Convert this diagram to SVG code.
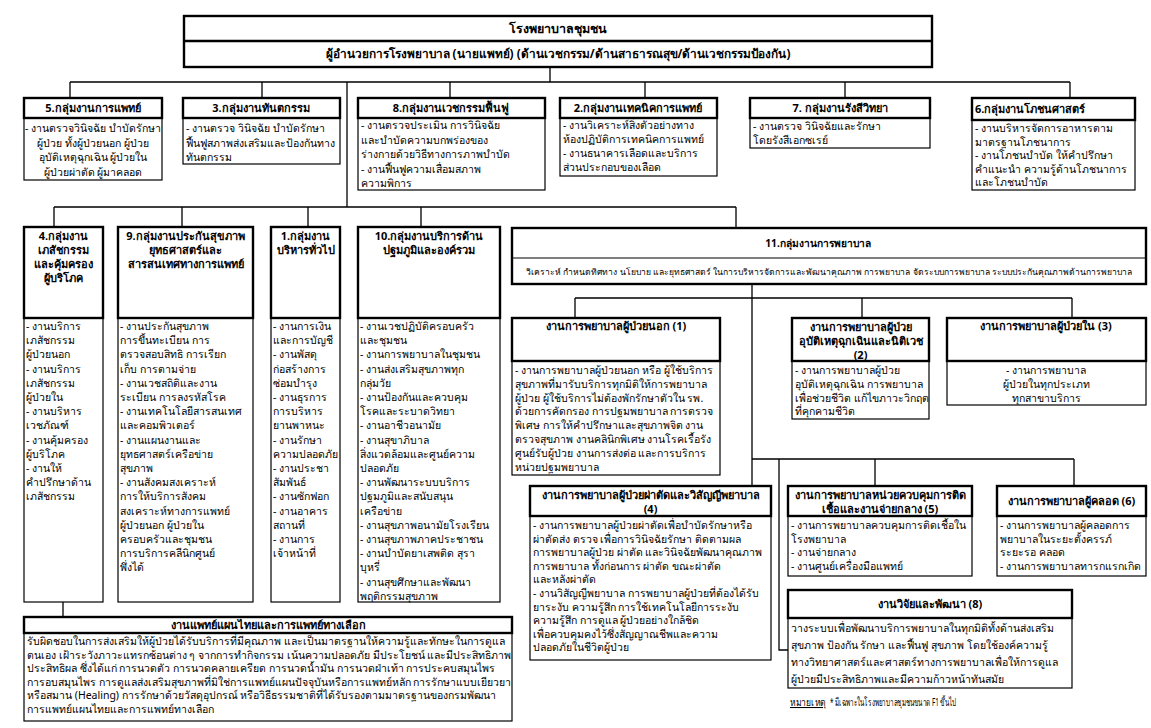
<svg xmlns="http://www.w3.org/2000/svg" width="1151" height="728" viewBox="0 0 1151 728">
<style>
.hb{fill:#fff;stroke:#000;stroke-width:2.4}
.bb{fill:#fff;stroke:#000;stroke-width:1.2}
.ln{fill:none;stroke:#000;stroke-width:1.3}
text{font-family:Tahoma,"Noto Sans","DejaVu Sans",sans-serif;font-size:10.5px;fill:#000}
.h{font-weight:bold;font-size:11px}
.c{text-anchor:middle}
.s{font-size:8.6px}
</style>
<rect width="1151" height="728" fill="#fff"/>
<g id="connectors">
<path class="ln" d="M550,67V82M70,82H1070M70,82V98M262,82V98M450,82V98M645,82V98M845,82V98M1070,82V98"/>
<path class="ln" d="M347,82V207M54,207H736M54,207V227M182,207V227M308,207V227M421,207V227M736,207V228"/>
<path class="ln" d="M752,284V486M575,298H1072M575,298V318M862,298V318M1072,298V318"/>
<path class="ln" d="M752,459H1074M779,459V650H788M875,459V486M1074,459V486"/>
<path class="ln" d="M63,602V617"/>
</g>
<g id="top">
<rect class="hb" x="184" y="16" width="748" height="51"/>
<line x1="184" y1="41" x2="932" y2="41" stroke="#000" stroke-width="2.4"/>
<text class="h c" x="558" y="33" style="font-size:12.5px">โรงพยาบาลชุมชน</text>
<text class="h c" x="558" y="58" style="font-size:11.8px">ผู้อำนวยการโรงพยาบาล (นายแพทย์) (ด้านเวชกรรม/ด้านสาธารณสุข/ด้านเวชกรรมป้องกัน)</text>
</g>
<g id="g5">
<rect class="bb" x="24" y="118" width="138" height="62"/>
<rect class="hb" x="24" y="98" width="138" height="20"/>
<text class="h c" x="93" y="112">5.กลุ่มงานการแพทย์</text>
<text class="c" x="93" y="132"> - งานตรวจวินิจฉัย บำบัดรักษา</text>
<text class="c" x="93" y="146.5">ผู้ป่วย ทั้งผู้ป่วยนอก ผู้ป่วย</text>
<text class="c" x="93" y="161">อุบัติเหตุฉุกเฉิน ผู้ป่วยใน</text>
<text class="c" x="93" y="175.5">ผู้ป่วยผ่าตัด ผู้มาคลอด</text>
</g>
<g id="g3">
<rect class="bb" x="183" y="118" width="157" height="46"/>
<rect class="hb" x="183" y="98" width="157" height="20"/>
<text class="h c" x="261" y="112">3.กลุ่มงานทันตกรรม</text>
<text x="186" y="132"> - งานตรวจ วินิจฉัย บำบัดรักษา</text>
<text x="186" y="146.5">ฟื้นฟูสภาพส่งเสริมและป้องกันทาง</text>
<text x="186" y="161">ทันตกรรม</text>
</g>
<g id="g8">
<rect class="bb" x="358" y="118" width="187" height="72"/>
<rect class="hb" x="358" y="98" width="187" height="20"/>
<text class="h c" x="451" y="112">8.กลุ่มงานเวชกรรมฟื้นฟู</text>
<text x="361" y="129"> - งานตรวจประเมิน การวินิจฉัย</text>
<text x="361" y="143.5">และบำบัดความบกพร่องของ</text>
<text x="361" y="158">ร่างกายด้วยวิธีทางการภาพบำบัด</text>
<text x="361" y="172.5"> - งานฟื้นฟูความเสื่อมสภาพ</text>
<text x="361" y="187">ความพิการ</text>
</g>
<g id="g2">
<rect class="bb" x="560" y="118" width="157" height="58"/>
<rect class="hb" x="560" y="98" width="157" height="20"/>
<text class="h c" x="638" y="112">2.กลุ่มงานเทคนิคการแพทย์</text>
<text x="563" y="129"> - งานวิเคราะห์สิ่งตัวอย่างทาง</text>
<text x="563" y="143">ห้องปฏิบัติการเทคนิคการแพทย์</text>
<text x="563" y="157"> - งานธนาคารเลือดและบริการ</text>
<text x="563" y="171">ส่วนประกอบของเลือด</text>
</g>
<g id="g7">
<rect class="bb" x="750" y="118" width="180" height="30"/>
<rect class="hb" x="750" y="98" width="180" height="20"/>
<text class="h c" x="840" y="112">7. กลุ่มงานรังสีวิทยา</text>
<text x="753" y="130"> - งานตรวจ วินิจฉัยและรักษา</text>
<text x="753" y="144">โดยรังสีเอกซเรย์</text>
</g>
<g id="g6">
<rect class="bb" x="972" y="120" width="163" height="70"/>
<rect class="hb" x="972" y="98" width="163" height="22"/>
<text class="h" x="975" y="113">6.กลุ่มงานโภชนศาสตร์</text>
<text x="975" y="132"> - งานบริหารจัดการอาหารตาม</text>
<text x="975" y="145.5">มาตรฐานโภชนาการ</text>
<text x="975" y="159"> - งานโภชนบำบัด ให้คำปรึกษา</text>
<text x="975" y="172.5">คำแนะนำ ความรู้ด้านโภชนาการ</text>
<text x="975" y="186">และโภชนบำบัด</text>
</g>
<g id="g4">
<rect class="bb" x="24" y="318" width="79" height="284"/>
<rect class="hb" x="24" y="227" width="79" height="91"/>
<text class="h c" x="63.5" y="240">4.กลุ่มงาน</text>
<text class="h c" x="63.5" y="254">เภสัชกรรม</text>
<text class="h c" x="63.5" y="268">และคุ้มครอง</text>
<text class="h c" x="63.5" y="282">ผู้บริโภค</text>
<text x="26" y="330"> - งานบริการ</text>
<text x="26" y="344.2">เภสัชกรรม</text>
<text x="26" y="358.4">ผู้ป่วยนอก</text>
<text x="26" y="372.6"> - งานบริการ</text>
<text x="26" y="386.8">เภสัชกรรม</text>
<text x="26" y="401">ผู้ป่วยใน</text>
<text x="26" y="415.2"> - งานบริหาร</text>
<text x="26" y="429.4">เวชภัณฑ์</text>
<text x="26" y="443.6"> - งานคุ้มครอง</text>
<text x="26" y="457.8">ผู้บริโภค</text>
<text x="26" y="472"> - งานให้</text>
<text x="26" y="486.2">คำปรึกษาด้าน</text>
<text x="26" y="500.4">เภสัชกรรม</text>
</g>
<g id="g9">
<rect class="bb" x="118" y="318" width="135" height="284"/>
<rect class="hb" x="118" y="227" width="135" height="91"/>
<text class="h c" x="185.5" y="240">9.กลุ่มงานประกันสุขภาพ</text>
<text class="h c" x="185.5" y="254">ยุทธศาสตร์และ</text>
<text class="h c" x="185.5" y="268">สารสนเทศทางการแพทย์</text>
<text x="120" y="330"> - งานประกันสุขภาพ</text>
<text x="120" y="344.2">การขึ้นทะเบียน การ</text>
<text x="120" y="358.4">ตรวจสอบสิทธิ การเรียก</text>
<text x="120" y="372.6">เก็บ การตามจ่าย</text>
<text x="120" y="386.8"> - งานเวชสถิติและงาน</text>
<text x="120" y="401">ระเบียน การลงรหัสโรค</text>
<text x="120" y="415.2"> - งานเทคโนโลยีสารสนเทศ</text>
<text x="120" y="429.4">และคอมพิวเตอร์</text>
<text x="120" y="443.6"> - งานแผนงานและ</text>
<text x="120" y="457.8">ยุทธศาสตร์เครือข่าย</text>
<text x="120" y="472">สุขภาพ</text>
<text x="120" y="486.2"> - งานสังคมสงเคราะห์</text>
<text x="120" y="500.4">การให้บริการสังคม</text>
<text x="120" y="514.6">สงเคราะห์ทางการแพทย์</text>
<text x="120" y="528.8">ผู้ป่วยนอก ผู้ป่วยใน</text>
<text x="120" y="543">ครอบครัวและชุมชน</text>
<text x="120" y="557.2">การบริการคลีนิกศูนย์</text>
<text x="120" y="571.4">พึ่งได้</text>
</g>
<g id="g1">
<rect class="bb" x="271" y="318" width="69" height="284"/>
<rect class="hb" x="271" y="227" width="69" height="91"/>
<text class="h c" x="305.5" y="240">1.กลุ่มงาน</text>
<text class="h c" x="305.5" y="254">บริหารทั่วไป</text>
<text x="273" y="330"> - งานการเงิน</text>
<text x="273" y="344.2">และการบัญชี</text>
<text x="273" y="358.4"> - งานพัสดุ</text>
<text x="273" y="372.6">ก่อสร้างการ</text>
<text x="273" y="386.8">ซ่อมบำรุง</text>
<text x="273" y="401"> - งานธุรการ</text>
<text x="273" y="415.2">การบริหาร</text>
<text x="273" y="429.4">ยานพาหนะ</text>
<text x="273" y="443.6"> - งานรักษา</text>
<text x="273" y="457.8">ความปลอดภัย</text>
<text x="273" y="472"> - งานประชา</text>
<text x="273" y="486.2">สัมพันธ์</text>
<text x="273" y="500.4"> - งานซักฟอก</text>
<text x="273" y="514.6"> - งานอาคาร</text>
<text x="273" y="528.8">สถานที่</text>
<text x="273" y="543"> - งานการ</text>
<text x="273" y="557.2">เจ้าหน้าที่</text>
</g>
<g id="g10">
<rect class="bb" x="358" y="318" width="142" height="284"/>
<rect class="hb" x="358" y="227" width="142" height="91"/>
<text class="h c" x="429" y="240">10.กลุ่มงานบริการด้าน</text>
<text class="h c" x="429" y="254">ปฐมภูมิและองค์รวม</text>
<text x="360" y="330"> - งานเวชปฏิบัติครอบครัว</text>
<text x="360" y="344.2">และชุมชน</text>
<text x="360" y="358.4"> - งานการพยาบาลในชุมชน</text>
<text x="360" y="372.6"> - งานส่งเสริมสุขภาพทุก</text>
<text x="360" y="386.8">กลุ่มวัย</text>
<text x="360" y="401"> - งานป้องกันและควบคุม</text>
<text x="360" y="415.2">โรคและระบาดวิทยา</text>
<text x="360" y="429.4"> - งานอาชีวอนามัย</text>
<text x="360" y="443.6"> - งานสุขาภิบาล</text>
<text x="360" y="457.8">สิ่งแวดล้อมและศูนย์ความ</text>
<text x="360" y="472">ปลอดภัย</text>
<text x="360" y="486.2"> - งานพัฒนาระบบบริการ</text>
<text x="360" y="500.4">ปฐมภูมิและสนับสนุน</text>
<text x="360" y="514.6">เครือข่าย</text>
<text x="360" y="528.8"> - งานสุขภาพอนามัยโรงเรียน</text>
<text x="360" y="543"> - งานสุขภาพภาคประชาชน</text>
<text x="360" y="557.2"> - งานบำบัดยาเสพติด สุรา</text>
<text x="360" y="571.4">บุหรี่</text>
<text x="360" y="585.6"> - งานสุขศึกษาและพัฒนา</text>
<text x="360" y="599.8">พฤติกรรมสุขภาพ</text>
</g>
<g id="g11">
<rect class="hb" x="512" y="228" width="634" height="56"/>
<line x1="512" y1="258" x2="1146" y2="258" stroke="#000" stroke-width="1.2"/>
<text class="h c" x="818" y="247" style="font-size:10.2px">11.กลุ่มงานการพยาบาล</text>
<text class="s c" x="829" y="275">วิเคราะห์ กำหนดทิศทาง นโยบาย และยุทธศาสตร์ ในการบริหารจัดการและพัฒนาคุณภาพ การพยาบาล จัดระบบการพยาบาล ระบบประกันคุณภาพด้านการพยาบาล</text>
</g>
<g id="n1">
<rect class="bb" x="512" y="361" width="208" height="114"/>
<rect class="hb" x="512" y="318" width="208" height="43"/>
<text class="h c" x="616" y="330">งานการพยาบาลผู้ป่วยนอก (1)</text>
<text x="515" y="374"> - งานการพยาบาลผู้ป่วยนอก หรือ ผู้ใช้บริการ</text>
<text x="515" y="387.8">สุขภาพที่มารับบริการทุกมิติให้การพยาบาล</text>
<text x="515" y="401.6">ผู้ป่วย ผู้ใช้บริการไม่ต้องพักรักษาตัวใน รพ.</text>
<text x="515" y="415.4">ด้วยการคัดกรอง การปฐมพยาบาล การตรวจ</text>
<text x="515" y="429.2">พิเศษ การให้คำปรึกษาและสุขภาพจิต งาน</text>
<text x="515" y="443">ตรวจสุขภาพ งานคลินิกพิเศษ งานโรคเรื้อรัง</text>
<text x="515" y="456.8">ศูนย์รับผู้ป่วย งานการส่งต่อ และการบริการ</text>
<text x="515" y="470.6">หน่วยปฐมพยาบาล</text>
</g>
<g id="n2">
<rect class="bb" x="792" y="361" width="137" height="58"/>
<rect class="hb" x="792" y="318" width="137" height="43"/>
<text class="h c" x="860.5" y="331">งานการพยาบาลผู้ป่วย</text>
<text class="h c" x="860.5" y="345">อุบัติเหตุฉุกเฉินและนิติเวช</text>
<text class="h c" x="860.5" y="359">(2)</text>
<text x="795" y="374"> - งานการพยาบาลผู้ป่วย</text>
<text x="795" y="387.8">อุบัติเหตุฉุกเฉิน การพยาบาล</text>
<text x="795" y="401.6">เพื่อช่วยชีวิต แก้ไขภาวะวิกฤต</text>
<text x="795" y="415.4">ที่คุกคามชีวิต</text>
</g>
<g id="n3">
<rect class="bb" x="947" y="361" width="199" height="44"/>
<rect class="hb" x="947" y="318" width="199" height="43"/>
<text class="h c" x="1046" y="330">งานการพยาบาลผู้ป่วยใน (3)</text>
<text class="c" x="1046" y="374"> - งานการพยาบาล</text>
<text class="c" x="1046" y="387.8">ผู้ป่วยในทุกประเภท</text>
<text class="c" x="1046" y="401.6">ทุกสาขาบริการ</text>
</g>
<g id="n4">
<rect class="bb" x="530" y="516" width="241" height="144"/>
<rect class="hb" x="530" y="486" width="241" height="30"/>
<text class="h c" x="650.5" y="499">งานการพยาบาลผู้ป่วยผ่าตัดและวิสัญญีพยาบาล</text>
<text class="h c" x="650.5" y="513">(4)</text>
<text x="533" y="529"> - งานการพยาบาลผู้ป่วยผ่าตัดเพื่อบำบัดรักษาหรือ</text>
<text x="533" y="542.6">ผ่าตัดส่ง ตรวจ เพื่อการวินิจฉัยรักษา ติดตามผล</text>
<text x="533" y="556.2">การพยาบาลผู้ป่วย ผ่าตัด และวินิจฉัยพัฒนาคุณภาพ</text>
<text x="533" y="569.8">การพยาบาล ทั้งก่อนการ ผ่าตัด ขณะผ่าตัด</text>
<text x="533" y="583.4">และหลังผ่าตัด</text>
<text x="533" y="597"> - งานวิสัญญีพยาบาล การพยาบาลผู้ป่วยที่ต้องได้รับ</text>
<text x="533" y="610.6">ยาระงับ ความรู้สึก การใช้เทคโนโลยีการระงับ</text>
<text x="533" y="624.2">ความรู้สึก  การดูแล ผู้ป่วยอย่างใกล้ชิด</text>
<text x="533" y="637.8">เพื่อควบคุมคงไว้ซึ่งสัญญาณชีพและความ</text>
<text x="533" y="651.4">ปลอดภัยในชีวิตผู้ป่วย</text>
</g>
<g id="n5">
<rect class="bb" x="788" y="516" width="184" height="60"/>
<rect class="hb" x="788" y="486" width="184" height="30"/>
<text class="h c" x="880" y="499">งานการพยาบาลหน่วยควบคุมการติด</text>
<text class="h c" x="880" y="513">เชื้อและงานจ่ายกลาง (5)</text>
<text x="791" y="529"> - งานการพยาบาลควบคุมการติดเชื้อใน</text>
<text x="791" y="542.6">โรงพยาบาล</text>
<text x="791" y="556.2"> - งานจ่ายกลาง</text>
<text x="791" y="569.8"> - งานศูนย์เครื่องมือแพทย์</text>
</g>
<g id="n6">
<rect class="bb" x="997" y="516" width="149" height="60"/>
<rect class="hb" x="997" y="486" width="149" height="30"/>
<text class="h c" x="1071.5" y="505">งานการพยาบาลผู้คลอด (6)</text>
<text x="1000" y="529"> - งานการพยาบาลผู้คลอดการ</text>
<text x="1000" y="542.6">พยาบาลในระยะตั้งครรภ์</text>
<text x="1000" y="556.2">ระยะรอ คลอด</text>
<text x="1000" y="569.8"> - งานการพยาบาลทารกแรกเกิด</text>
</g>
<g id="n8">
<rect class="bb" x="788" y="618" width="284" height="70"/>
<rect class="hb" x="788" y="590" width="284" height="28"/>
<text class="h c" x="930" y="608">งานวิจัยและพัฒนา (8)</text>
<text x="791" y="632">วางระบบเพื่อพัฒนาบริการพยาบาลในทุกมิติทั้งด้านส่งเสริม</text>
<text x="791" y="649">สุขภาพ ป้องกัน รักษา และฟื้นฟู สุขภาพ โดยใช้องค์ความรู้</text>
<text x="791" y="666">ทางวิทยาศาสตร์และศาสตร์ทางการพยาบาลเพื่อให้การดูแล</text>
<text x="791" y="683">ผู้ป่วยมีประสิทธิภาพและมีความก้าวหน้าทันสมัย</text>
</g>
<g id="thai">
<rect class="bb" x="24" y="633" width="488" height="88"/>
<rect class="hb" x="24" y="617" width="488" height="16"/>
<text class="h c" x="268" y="629">งานแพทย์แผนไทยและการแพทย์ทางเลือก</text>
<text x="27" y="645">รับผิดชอบในการส่งเสริมให้ผู้ป่วยได้รับบริการที่มีคุณภาพ และเป็นมาตรฐานให้ความรู้และทักษะในการดูแล</text>
<text x="27" y="658.6">ตนเอง เฝ้าระวังภาวะแทรกซ้อนต่าง ๆ จากการทำกิจกรรม เน้นความปลอดภัย มีประโยชน์ และมีประสิทธิภาพ</text>
<text x="27" y="672.2">ประสิทธิผล ซึ่งได้แก่ การนวดตัว การนวดคลายเครียด การนวดน้ำมัน การนวดฝ่าเท้า การประคบสมุนไพร</text>
<text x="27" y="685.8">การอบสมุนไพร การดูแลส่งเสริมสุขภาพที่มิใช่การแพทย์แผนปัจจุบันหรือการแพทย์หลัก การรักษาแบบเยียวยา</text>
<text x="27" y="699.4">หรือสมาน (Healing) การรักษาด้วยวัสดุอุปกรณ์ หรือวิธีธรรมชาติที่ได้รับรองตามมาตรฐานของกรมพัฒนา</text>
<text x="27" y="713">การแพทย์แผนไทยและการแพทย์ทางเลือก</text>
</g>
<g id="note">
<text x="790" y="706" text-decoration="underline" textLength="36" lengthAdjust="spacingAndGlyphs">หมายเหตุ</text>
<text x="830" y="706" textLength="126" lengthAdjust="spacingAndGlyphs">* มีเฉพาะในโรงพยาบาลชุมชนขนาด F1 ขึ้นไป</text>
</g>
</svg>
